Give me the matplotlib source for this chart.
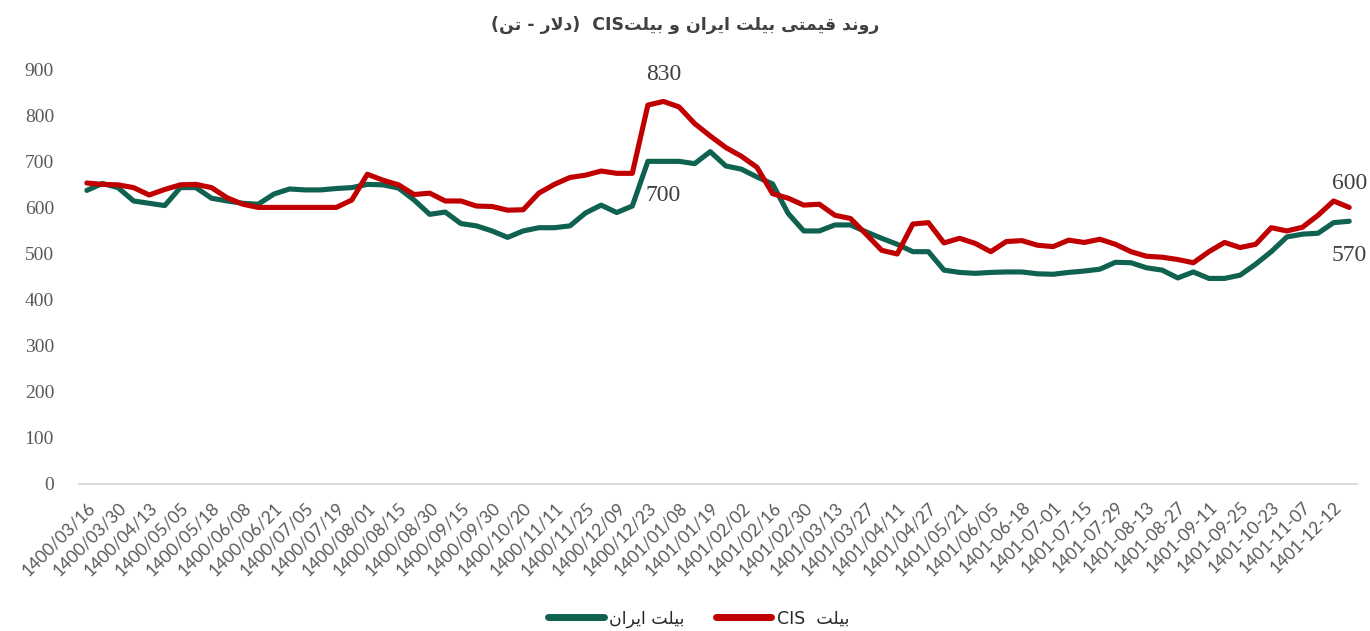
import re
import numpy as np
import matplotlib
matplotlib.use("Agg")
import matplotlib.pyplot as plt

# data (USD per tonne)
iran_billet = [637, 652, 643, 614, 609, 604, 643, 643, 620, 614,
               609, 607, 629, 640, 638, 638, 641, 643, 650, 649,
               642, 616, 585, 590, 565, 560, 549, 535, 549, 556,
               556, 560, 588, 605, 589, 603, 700, 700, 700, 695,
               721, 690, 683, 666, 651, 587, 549, 549, 562, 562,
               547, 533, 520, 504, 504, 464, 459, 457, 459, 460,
               460, 456, 455, 459, 462, 466, 481, 480, 469, 464,
               447, 460, 446, 446, 453, 477, 504, 536, 542, 544,
               567, 570]
cis_billet = [653, 650, 649, 643, 627, 639, 649, 650, 643, 621,
              607, 600, 600, 600, 600, 600, 600, 616, 672, 659,
              649, 628, 631, 614, 614, 603, 602, 594, 595, 631,
              650, 665, 670, 679, 674, 674, 822, 830, 818, 782,
              755, 730, 711, 687, 630, 620, 605, 607, 583, 576,
              542, 507, 499, 564, 567, 523, 533, 522, 504, 526,
              528, 518, 515, 529, 524, 531, 520, 504, 494, 492,
              487, 480, 504, 524, 513, 520, 556, 549, 557, 583,
              614, 600]
tick_labels = ["1400/03/16", "1400/03/30", "1400/04/13", "1400/05/05", "1400/05/18",
               "1400/06/08", "1400/06/21", "1400/07/05", "1400/07/19", "1400/08/01",
               "1400/08/15", "1400/08/30", "1400/09/15", "1400/09/30", "1400/10/20",
               "1400/11/11", "1400/11/25", "1400/12/09", "1400/12/23", "1401/01/08",
               "1401/01/19", "1401/02/02", "1401/02/16", "1401/02/30", "1401/03/13",
               "1401/03/27", "1401/04/11", "1401/04/27", "1401/05/21", "1401/06/05",
               "1401-06-18", "1401-07-01", "1401-07-15", "1401-07-29", "1401-08-13",
               "1401-08-27", "1401-09-11", "1401-09-25", "1401-10-23", "1401-11-07",
               "1401-12-12"]
title_text = "روند قیمتی بیلت ایران و بیلتCIS  (دلار - تن)"
name_iran = "بیلت ایران"
name_cis = "بیلت  CIS"

# matplotlib has no arabic shaping, so do a tiny one by hand
FORMS = {
    'ا': ('\uFE8D', '\uFE8E', None, None),
    'ب': ('\uFE8F', '\uFE90', '\uFE91', '\uFE92'),
    'ت': ('\uFE95', '\uFE96', '\uFE97', '\uFE98'),
    'د': ('\uFEA9', '\uFEAA', None, None),
    'ر': ('\uFEAD', '\uFEAE', None, None),
    'ق': ('\uFED5', '\uFED6', '\uFED7', '\uFED8'),
    'ل': ('\uFEDD', '\uFEDE', '\uFEDF', '\uFEE0'),
    'م': ('\uFEE1', '\uFEE2', '\uFEE3', '\uFEE4'),
    'ن': ('\uFEE5', '\uFEE6', '\uFEE7', '\uFEE8'),
    'و': ('\uFEED', '\uFEEE', None, None),
    'ی': ('\uFBFC', '\uFBFD', '\uFBFE', '\uFBFF'),
}
LAM_ALEF = ('\uFEFB', '\uFEFC')


def joins_left(c):
    return c in FORMS and FORMS[c][2] is not None


def shape(s):
    out = []
    i = 0
    while i < len(s):
        c = s[i]
        if c not in FORMS:
            out.append(c)
            i += 1
            continue
        con_prev = i > 0 and joins_left(s[i - 1])
        if c == 'ل' and i + 1 < len(s) and s[i + 1] == 'ا':
            out.append(LAM_ALEF[1] if con_prev else LAM_ALEF[0])
            i += 2
            continue
        con_next = joins_left(c) and i + 1 < len(s) and s[i + 1] in FORMS
        iso, fin, ini, med = FORMS[c]
        if con_prev and con_next:
            out.append(med)
        elif con_prev:
            out.append(fin)
        elif con_next:
            out.append(ini)
        else:
            out.append(iso)
        i += 1
    return ''.join(out)


def fa(s):
    toks = re.findall(r'[A-Za-z0-9]+|.', shape(s))
    mirror = {'(': ')', ')': '('}
    return ''.join(mirror.get(t, t) for t in reversed(toks))


green = "#0F6150"
red = "#C00000"
grey = "#595959"

x = np.arange(len(iran_billet))

fig = plt.figure(figsize=(13.7, 6.31), dpi=100)
ax = fig.add_axes([0.0577, 0.233, 0.9328, 0.6574])

ax.plot(x, iran_billet, color=green, linewidth=3.7, solid_joinstyle="round",
        solid_capstyle="round", label=fa(name_iran))
ax.plot(x, cis_billet, color=red, linewidth=3.7, solid_joinstyle="round",
        solid_capstyle="round", label=fa(name_cis))

ax.set_xlim(-0.5, len(x) - 0.5)
ax.set_ylim(0, 900)
ax.set_yticks(np.arange(0, 901, 100))
ax.set_xticks(x[::2])
ax.set_xticklabels(tick_labels, rotation=45, ha="right", rotation_mode="anchor",
                   fontsize=12.5, color=grey, family="Lato")
for lab in ax.get_yticklabels():
    lab.set_family("Liberation Serif")
    lab.set_fontsize(14)
    lab.set_color(grey)
ax.tick_params(axis="both", length=0)
ax.tick_params(axis="y", pad=18)
ax.tick_params(axis="x", pad=11)

for s in ["top", "right", "left"]:
    ax.spines[s].set_visible(False)
ax.spines["bottom"].set_color("#D9D9D9")
ax.spines["bottom"].set_linewidth(1.3)

# data labels
lab_kw = dict(fontsize=17, color="#404040", family="Liberation Serif", ha="center")
ax.annotate(str(cis_billet[37]), (37, cis_billet[37]), xytext=(0, 12),
            textcoords="offset points", va="bottom", **lab_kw)
ax.annotate(str(iran_billet[37]), (37, iran_billet[37]), xytext=(0, -17),
            textcoords="offset points", va="top", **lab_kw)
ax.annotate(str(cis_billet[-1]), (x[-1], cis_billet[-1]), xytext=(0, 10),
            textcoords="offset points", va="bottom", annotation_clip=False, **lab_kw)
ax.annotate(str(iran_billet[-1]), (x[-1], iran_billet[-1]), xytext=(0, -17),
            textcoords="offset points", va="top", annotation_clip=False, **lab_kw)

fig.text(0.5, 0.96, fa(title_text), ha="center", va="center", fontsize=12.5,
         fontweight="bold", color="#404040", family="DejaVu Sans")

leg = fig.legend(loc="center", bbox_to_anchor=(0.51, 0.02), ncol=2, frameon=False,
                 prop={"family": "DejaVu Sans", "size": 12.5}, handlelength=3.2,
                 columnspacing=1.8, handletextpad=0.3)
for h in leg.get_lines():
    h.set_linewidth(5)
for t in leg.get_texts():
    t.set_color("#262626")

fig.savefig("out.png", dpi=100, facecolor="white")
